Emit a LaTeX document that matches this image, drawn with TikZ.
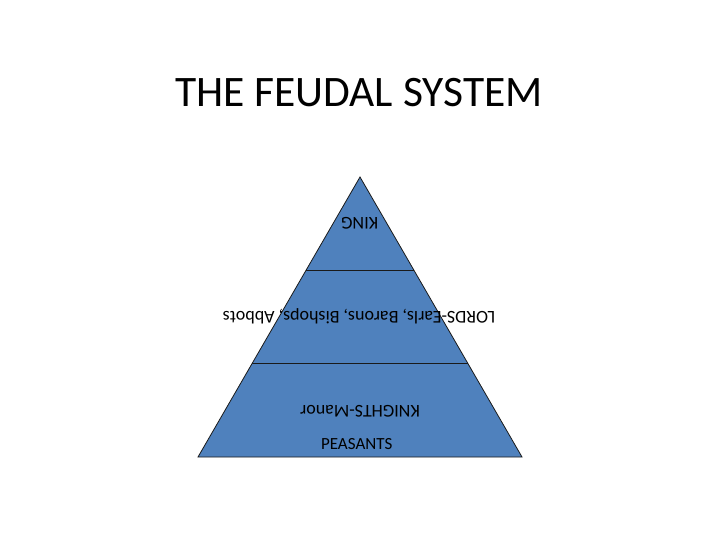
\documentclass[tikz,border=0pt]{standalone}
\usepackage{fontspec}
\setmainfont{Carlito}
\usetikzlibrary{calc}
\definecolor{tierfill}{HTML}{4F81BD}
\definecolor{ink}{HTML}{1A1A1A}

\begin{document}
\begin{tikzpicture}[x=1pt, y=-1pt,
  title/.style={font=\fontsize{43.5}{50}\selectfont, anchor=base, inner sep=0pt},
  pyramid/.style={fill=tierfill, draw=ink, line width=0.8pt, line join=miter},
  divider/.style={draw=ink, line width=0.8pt},
  tier/.style={font=\fontsize{18}{21}\selectfont, text=black, anchor=base, inner sep=0pt},
  flipped/.style={tier, rotate=180}]
\useasboundingbox[fill=white] (0,0) rectangle (720,540);
% ---------- title
\node[title] (title) at (359,106.5) {THE FEUDAL SYSTEM};
% ---------- pyramid
\coordinate (apex) at (360,177);
\coordinate (baseL) at (198,457);
\coordinate (baseR) at (522,457);
\draw[pyramid] (apex) -- (baseL) -- (baseR) -- cycle;
\coordinate (d1L) at ($(apex)!1/3!(baseL)$);
\coordinate (d1R) at ($(apex)!1/3!(baseR)$);
\coordinate (d2L) at ($(apex)!2/3!(baseL)$);
\coordinate (d2R) at ($(apex)!2/3!(baseR)$);
\draw[divider] (d1L) -- (d1R);
\draw[divider] (d2L) -- (d2R);
% ---------- tier labels
\node[flipped] (king) at (359.7,218) {KING};
\node[flipped] (lords) at (359,311.7) {LORDS-Earls, Barons, Bishops, Abbots};
\node[flipped] (knights) at (360,405) {KNIGHTS-Manor};
\node[tier, font=\fontsize{17}{20}\selectfont] (peasants) at (356.7,449.3) {PEASANTS};
\end{tikzpicture}
\end{document}
